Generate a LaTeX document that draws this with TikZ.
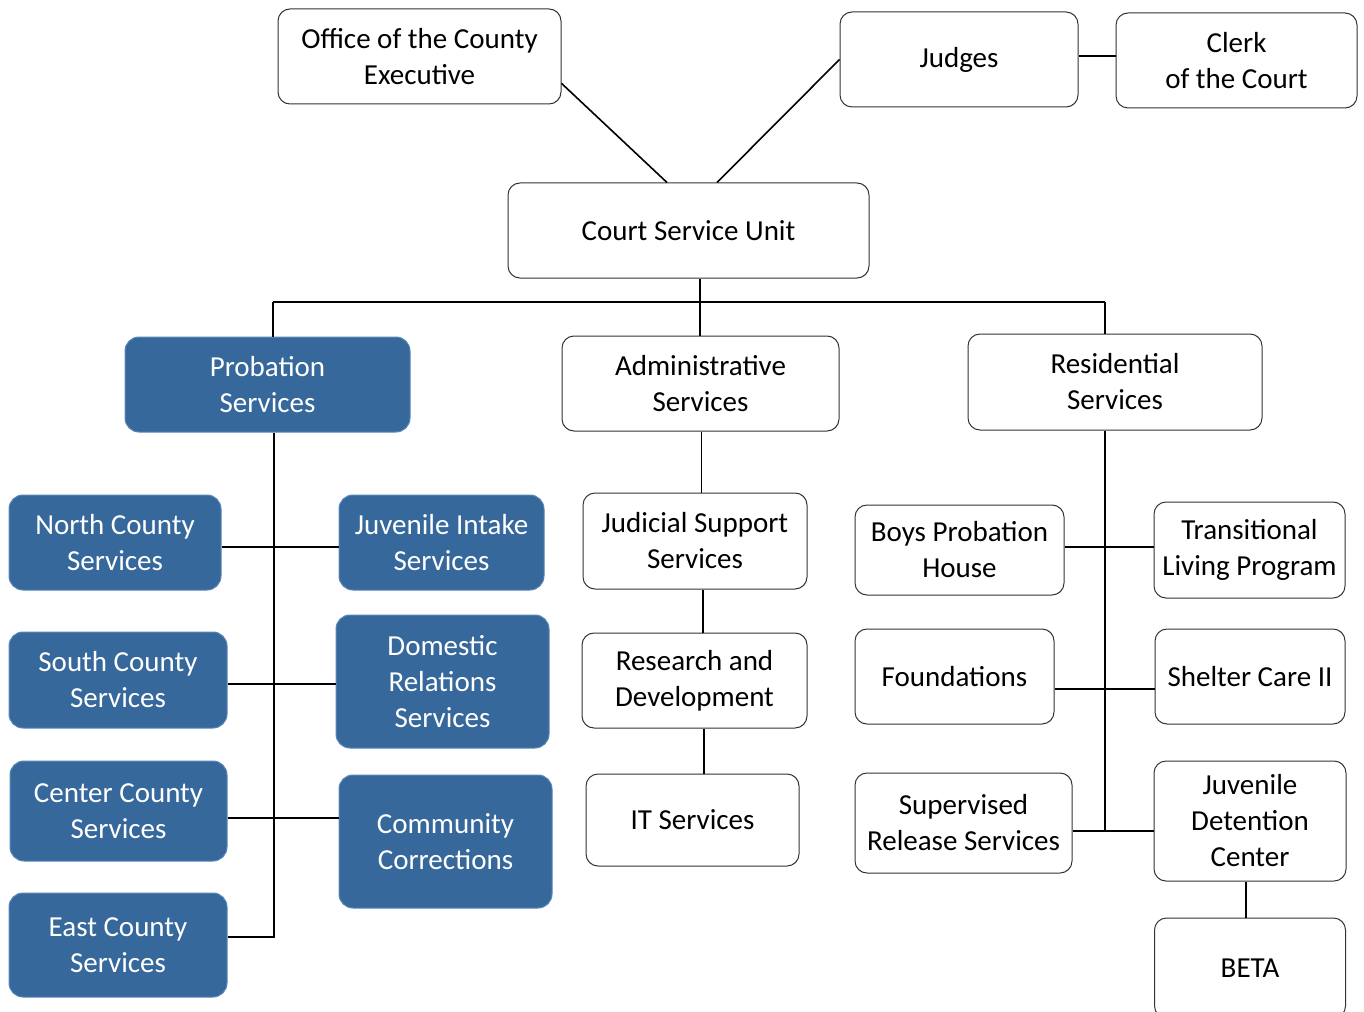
\documentclass[tikz,border=0pt]{standalone}
\usepackage{fontspec}
\setmainfont{Carlito}
\usetikzlibrary{calc}
\definecolor{pblue}{RGB}{54,104,155}
\definecolor{pedge}{RGB}{90,135,185}
\begin{document}
\begin{tikzpicture}[x=1pt,y=-1pt,
 box/.style={rounded corners=12pt, align=center, inner sep=0pt, font=\fontsize{29}{36}\selectfont, line width=1pt},
 wbox/.style={box, draw=black!80, fill=white, text=black},
 bbox/.style={box, rounded corners=14pt, draw=pedge, fill=pblue, text=white},
 conn/.style={line width=1.6pt, black}]
\useasboundingbox (0,0) rectangle (1364,1011);
% top
\node[wbox, minimum width=283pt, minimum height=95pt] (off) at (419.5,56.5) {Office of the County\\Executive};
\node[wbox, minimum width=238pt, minimum height=95pt] (jud) at (959,59.5) {Judges};
\node[wbox, minimum width=241pt, minimum height=95pt] (clk) at (1236.5,60.5) {Clerk\\of the Court};
\node[wbox, minimum width=361pt, minimum height=95pt] (csu) at (688.5,230.5) {Court Service Unit};
% second level
\node[bbox, minimum width=285pt, minimum height=95pt] (prob) at (267.5,384.5) {Probation\\Services};
\node[wbox, minimum width=277pt, minimum height=95pt] (adm) at (700.5,383.5) {Administrative\\Services};
\node[wbox, minimum width=294pt, minimum height=96pt] (res) at (1115,382) {Residential\\Services};
% probation children
\node[bbox, minimum width=212pt, minimum height=95pt] (nor) at (115,542.5) {North County\\Services};
\node[bbox, minimum width=205pt, minimum height=95pt] (jis) at (441.5,542.5) {Juvenile Intake\\Services};
\node[bbox, minimum width=218pt, minimum height=96pt] (sou) at (118,680) {South County\\Services};
\node[bbox, minimum width=213pt, minimum height=133pt] (dom) at (442.5,681.5) {Domestic\\Relations\\Services};
\node[bbox, minimum width=217pt, minimum height=100pt] (cen) at (118.5,811) {Center County\\Services};
\node[bbox, minimum width=213pt, minimum height=133pt] (com) at (445.5,841.5) {Community\\Corrections};
\node[bbox, minimum width=218pt, minimum height=104pt] (eas) at (118,945) {East County\\Services};
% admin children
\node[wbox, minimum width=224pt, minimum height=96pt] (jss) at (695,541) {Judicial Support\\Services};
\node[wbox, minimum width=225pt, minimum height=95pt] (rnd) at (694.5,680.5) {Research and\\Development};
\node[wbox, minimum width=213pt, minimum height=92pt] (its) at (692.5,820) {IT Services};
% residential children
\node[wbox, minimum width=209pt, minimum height=90pt] (bph) at (959.5,550) {Boys Probation\\House};
\node[wbox, minimum width=191pt, minimum height=96pt] (tlp) at (1249.5,550) {Transitional\\Living Program};
\node[wbox, minimum width=199pt, minimum height=95pt] (fnd) at (954.5,676.5) {Foundations};
\node[wbox, minimum width=190pt, minimum height=95pt] (shc) at (1250,676.5) {Shelter Care II};
\node[wbox, minimum width=217pt, minimum height=100pt] (srs) at (963.5,823) {Supervised\\Release Services};
\node[wbox, minimum width=192pt, minimum height=120pt] (jdc) at (1250,821) {Juvenile\\Detention\\Center};
\node[wbox, minimum width=191pt, minimum height=100pt] (beta) at (1250,968) {BETA};
% top connectors
\draw[conn] ($(off.north east)!0.78!(off.south east)$) -- ([xshift=-21.5pt]csu.north);
\draw[conn] (jud.west) -- ([xshift=28.5pt]csu.north);
\draw[conn] ([yshift=3.5pt]jud.east) -- ([yshift=3.5pt]jud.east -| clk.west);
% bus
\coordinate (busC) at (700,302);
\coordinate (busL) at (273,302);
\coordinate (busR) at (1105,302);
\draw[conn] (csu.south -| busC) -- (busC);
\draw[conn] (busL) -- (busR);
\draw[conn] (busL) -- (busL |- prob.north);
\draw[conn] (busC) -- (busC |- adm.north);
\draw[conn] (busR) -- (busR |- res.north);
% probation tree
\coordinate (pv) at (274,0);
\coordinate (pEnd) at (274,937);
\draw[conn] (prob.south -| pv) -- (pEnd) -- (eas.east |- pEnd);
\draw[conn] (nor.east |- 0,547) -- (jis.west |- 0,547);
\draw[conn] (sou.east |- 0,684) -- (dom.west |- 0,684);
\draw[conn] (cen.east |- 0,818) -- (com.west |- 0,818);
% admin chain
\draw[conn] ([xshift=1pt]adm.south) -- ([xshift=1pt]adm.south |- jss.north);
\draw[conn] ([xshift=8pt]jss.south) -- ([xshift=8pt]jss.south |- rnd.north);
\draw[conn] ([xshift=9.5pt]rnd.south) -- ([xshift=9.5pt]rnd.south |- its.north);
% residential tree
\coordinate (rv) at (1105,0);
\coordinate (rEnd) at (1105,831);
\draw[conn] (res.south -| rv) -- (rEnd);
\draw[conn] (bph.east |- 0,547) -- (tlp.west |- 0,547);
\draw[conn] (fnd.east |- 0,689) -- (shc.west |- 0,689);
\draw[conn] (srs.east |- 0,831) -- (jdc.west |- 0,831);
\draw[conn] ([xshift=-4pt]jdc.south) -- ([xshift=-4pt]jdc.south |- beta.north);
\end{tikzpicture}
\end{document}
